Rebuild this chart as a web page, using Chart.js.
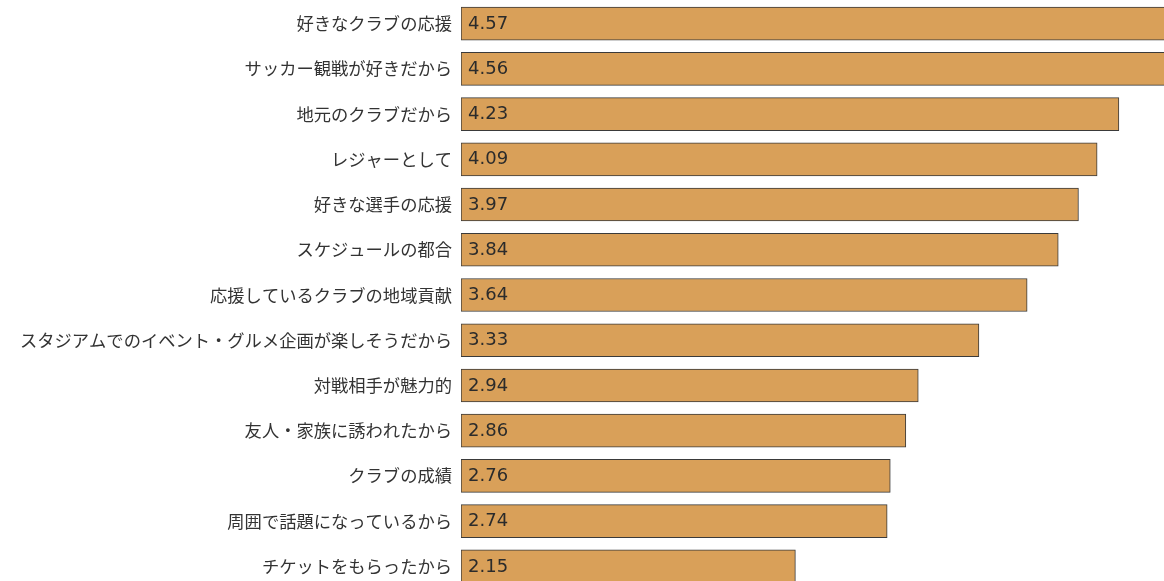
<!DOCTYPE html>
<html>
<head>
<meta charset="utf-8">
<script src="https://cdn.jsdelivr.net/npm/chart.js@4/dist/chart.umd.min.js"></script>
<style>
html,body{margin:0;padding:0;overflow:hidden;background:#fff;width:1164px;height:581px;}
canvas{display:block;}
</style>
</head>
<body>
<canvas id="c" width="1192" height="589"></canvas>
<script>
const categories = [
  "好きなクラブの応援",
  "サッカー観戦が好きだから",
  "地元のクラブだから",
  "レジャーとして",
  "好きな選手の応援",
  "スケジュールの都合",
  "応援しているクラブの地域貢献",
  "スタジアムでのイベント・グルメ企画が楽しそうだから",
  "対戦相手が魅力的",
  "友人・家族に誘われたから",
  "クラブの成績",
  "周囲で話題になっているから",
  "チケットをもらったから"
];
const values = [4.57, 4.56, 4.23, 4.09, 3.97, 3.84, 3.64, 3.33, 2.94, 2.86, 2.76, 2.74, 2.15];

const valueLabels = {
  id: 'valueLabels',
  afterDatasetsDraw(chart) {
    const ctx = chart.ctx;
    const meta = chart.getDatasetMeta(0);
    ctx.save();
    ctx.font = '18px "DejaVu Sans", sans-serif';
    ctx.fillStyle = '#2b2b2b';
    ctx.textAlign = 'left';
    ctx.textBaseline = 'middle';
    meta.data.forEach((bar, i) => {
      ctx.fillText(values[i].toFixed(2), bar.base + 7, bar.y + 0.5);
    });
    ctx.restore();
  }
};

new Chart(document.getElementById('c'), {
  type: 'bar',
  data: {
    labels: categories,
    datasets: [{
      data: values,
      backgroundColor: '#D9A059',
      borderColor: '#3a3a3a',
      borderWidth: 1,
      borderSkipped: false,
      barThickness: 33
    }]
  },
  options: {
    indexAxis: 'y',
    responsive: false,
    animation: false,
    devicePixelRatio: 1,
    layout: { padding: { top: 1, left: 0, right: 0, bottom: 0 } },
    plugins: { legend: { display: false }, tooltip: { enabled: false } },
    scales: {
      x: { display: false, min: 0, max: 4.7 },
      y: {
        grid: { display: false, drawTicks: false },
        border: { display: false },
        ticks: {
          padding: 9,
          color: '#333',
          font: { family: '"Noto Sans CJK JP", sans-serif', size: 17.3 }
        },
        afterFit(s) { s.width = 461; s.paddingTop = 0; s.paddingBottom = 0; }
      }
    }
  },
  plugins: [valueLabels]
});
</script>
</body>
</html>
